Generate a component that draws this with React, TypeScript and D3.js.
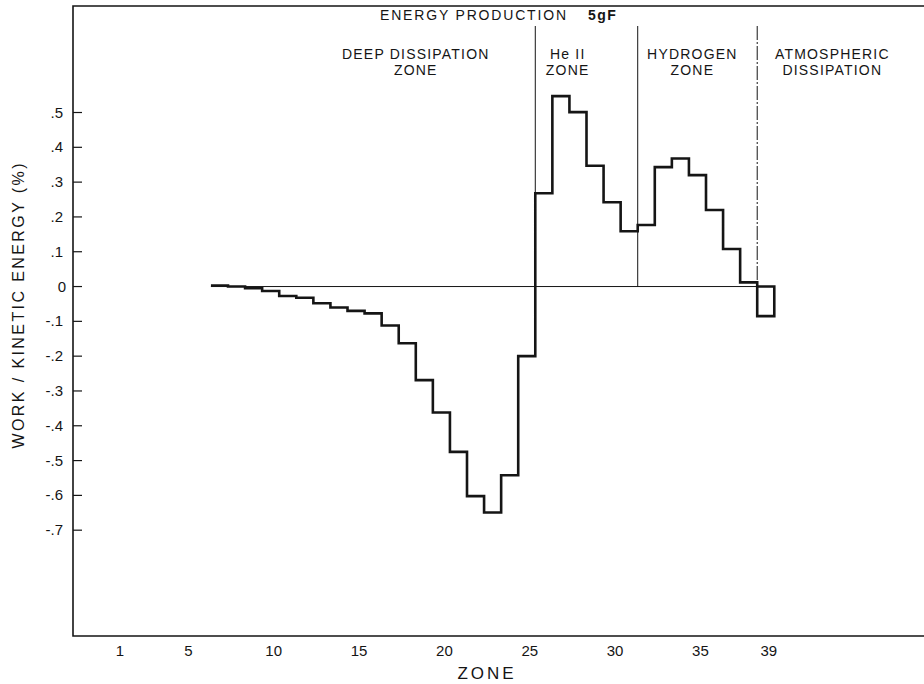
import { useRef, useEffect } from "react";
import * as d3 from "d3";

// zone numbers and work / kinetic energy (%) per zone
const zones = [7, 8, 9, 10, 11, 12, 13, 14, 15, 16, 17, 18, 19, 20, 21, 22, 23, 24, 25, 26, 27, 28, 29, 30, 31, 32, 33, 34, 35, 36, 37, 38, 39];
const workValues = [
  0.003, 0.0, -0.005, -0.013, -0.027, -0.032, -0.048, -0.06, -0.07, -0.077, -0.112, -0.163,
  -0.269, -0.362, -0.475, -0.602, -0.649, -0.542, -0.2, 0.268, 0.547, 0.501, 0.347, 0.242,
  0.159, 0.177, 0.343, 0.368, 0.32, 0.22, 0.108, 0.012, -0.085,
];

const xTicks = [1, 5, 10, 15, 20, 25, 30, 35, 39];
const yTicks = [0.5, 0.4, 0.3, 0.2, 0.1, 0, -0.1, -0.2, -0.3, -0.4, -0.5, -0.6, -0.7];

// region boundaries (zone index) and labels
const boundaries = [25.5, 31.5, 38.5];
const regionLabels = [
  { x: 18.5, lines: ["DEEP DISSIPATION", "ZONE"] },
  { x: 27.4, lines: ["He II", "ZONE"] },
  { x: 34.7, lines: ["HYDROGEN", "ZONE"] },
  { x: 42.9, lines: ["ATMOSPHERIC", "DISSIPATION"] },
];

const W = 924;
const H = 684;
const LEFT = 73;
const TOP = 6;
const BOTTOM = 636;
const FONT = "'Liberation Sans', Arial, sans-serif";
const INK = "#151515";

function fmt(v: number) {
  if (v === 0) return "0";
  const s = Math.abs(v).toFixed(1).replace(/^0/, "");
  return v < 0 ? "-" + s : s;
}

function Chart() {
  const svgRef = useRef<SVGSVGElement>(null);

  useEffect(() => {
    if (!svgRef.current) return;
    const svg = d3.select(svgRef.current);
    svg.selectAll("*").remove();

    const x = d3.scaleLinear().domain([-1.58, 48.27]).range([LEFT, W]);
    const y = d3.scaleLinear().domain([-1.004, 0.806]).range([BOTTOM, TOP]);

    // frame
    svg.append("path")
      .attr("d", `M${W},${TOP}H${LEFT}V${BOTTOM}H${W}`)
      .attr("fill", "none").attr("stroke", INK).attr("stroke-width", 1.6);

    // y ticks (inward) and labels
    yTicks.forEach((t) => {
      svg.append("line")
        .attr("x1", LEFT).attr("x2", LEFT + 9)
        .attr("y1", y(t)).attr("y2", y(t))
        .attr("stroke", INK).attr("stroke-width", 1.2);
      svg.append("text")
        .attr("x", t === 0 ? LEFT - 7 : LEFT - 10).attr("y", y(t) + 5)
        .attr("text-anchor", "end")
        .attr("fill", INK).style("font-family", FONT).style("font-size", "15px")
        .text(fmt(t));
    });

    // x tick labels (no tick marks in the original)
    xTicks.forEach((t) => {
      svg.append("text")
        .attr("x", x(t) + 3).attr("y", 656)
        .attr("text-anchor", "middle")
        .attr("fill", INK).style("font-family", FONT).style("font-size", "15px")
        .text(String(t));
    });

    // zero line
    svg.append("line")
      .attr("x1", x(zones[0] - 0.5)).attr("x2", x(zones[zones.length - 1] + 0.5))
      .attr("y1", y(0)).attr("y2", y(0))
      .attr("stroke", INK).attr("stroke-width", 1);

    // region separators
    boundaries.forEach((b, i) => {
      svg.append("line")
        .attr("x1", x(b)).attr("x2", x(b))
        .attr("y1", 26).attr("y2", y(0))
        .attr("stroke", INK).attr("stroke-width", 1)
        .attr("stroke-dasharray", i === 2 ? "14,2,2,2" : null);
    });

    // step curve
    const pts: [number, number][] = [];
    zones.forEach((z, i) => {
      pts.push([z - 0.5, workValues[i]]);
      pts.push([z + 0.5, workValues[i]]);
    });
    const last = zones[zones.length - 1];
    pts.push([last + 0.5, 0], [last - 0.5, 0]);

    const line = d3.line<[number, number]>()
      .x((d) => x(d[0]))
      .y((d) => y(d[1]));

    svg.append("path")
      .datum(pts)
      .attr("fill", "none")
      .attr("stroke", INK)
      .attr("stroke-width", 2.6)
      .attr("stroke-linejoin", "miter")
      .attr("d", line);

    // headings
    svg.append("text")
      .attr("x", 380).attr("y", 20)
      .attr("fill", INK).style("font-family", FONT).style("font-size", "14px")
      .attr("textLength", 186).attr("lengthAdjust", "spacing")
      .text("ENERGY PRODUCTION");
    svg.append("text")
      .attr("x", 588).attr("y", 20)
      .attr("fill", INK).style("font-family", FONT).style("font-size", "14px")
      .style("font-weight", "bold").style("letter-spacing", "1.5px")
      .text("5gF");

    regionLabels.forEach((r) => {
      r.lines.forEach((s, j) => {
        svg.append("text")
          .attr("x", x(r.x)).attr("y", 59 + j * 16)
          .attr("text-anchor", "middle")
          .attr("fill", INK).style("font-family", FONT).style("font-size", "14px")
          .style("letter-spacing", "1.2px")
          .text(s);
      });
    });

    // axis titles
    svg.append("text")
      .attr("x", 487).attr("y", 679)
      .attr("text-anchor", "middle")
      .attr("fill", INK).style("font-family", FONT).style("font-size", "17px")
      .style("letter-spacing", "3px")
      .text("ZONE");

    svg.append("text")
      .attr("transform", `translate(24,${306}) rotate(-90)`)
      .attr("text-anchor", "middle")
      .attr("fill", INK).style("font-family", FONT).style("font-size", "16px")
      .attr("textLength", 285).attr("lengthAdjust", "spacing")
      .text("WORK / KINETIC ENERGY (%)");
  }, []);

  return (
    <svg
      ref={svgRef}
      width={W}
      height={H}
      style={{ position: "absolute", left: 0, top: 0, background: "#fff" }}
    />
  );
}

export default function App() {
  return <Chart />;
}
